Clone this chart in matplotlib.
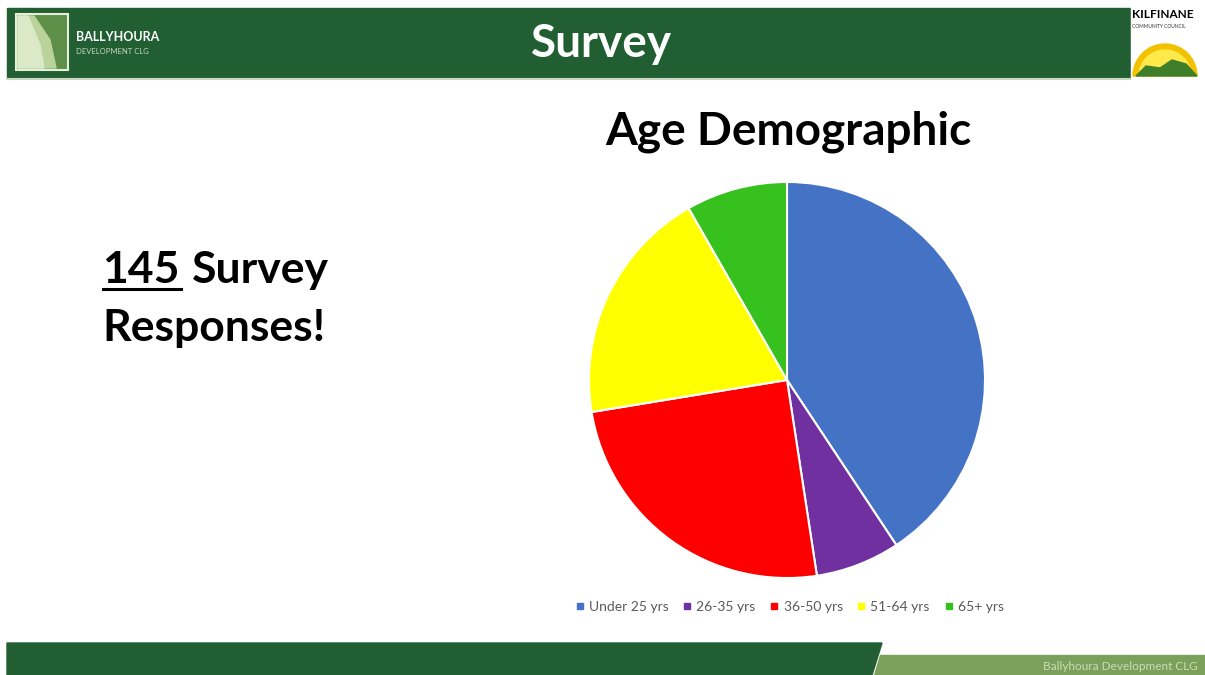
import matplotlib.pyplot as plt
from matplotlib.lines import Line2D
from matplotlib.patches import Rectangle, Polygon, Wedge

# survey answers by age group
age_groups = ["Under 25 yrs", "26-35 yrs", "36-50 yrs", "51-64 yrs", "65+ yrs"]
responses = [59, 10, 36, 28, 12]
slice_colors = ["#4472C4", "#7030A0", "#FF0000", "#FFFF00", "#36C11E"]
total_responses = sum(responses)

W, H = 1205, 675
DARK_GREEN = "#215F32"
LIGHT_GREEN = "#7BA05B"

plt.rcParams["font.family"] = ["Lato", "DejaVu Sans"]

fig = plt.figure(figsize=(W / 100, H / 100), dpi=100)

# full-size axes in pixel units for the slide decoration
deco = fig.add_axes([0, 0, 1, 1])
deco.set_xlim(0, W)
deco.set_ylim(H, 0)
deco.axis("off")

# header bar
deco.add_patch(Rectangle((7, 8), 1123, 69, color=DARK_GREEN))
deco.plot([7, 1130], [79, 79], color="#C9D6C0", lw=1.5)
deco.text(602, 44, "Survey", color="white", fontsize=33, fontweight="bold",
          ha="center", va="center")

# left logo
deco.add_patch(Rectangle((16, 14), 52, 56, facecolor="#5E8F48", edgecolor="#E4EEDA", lw=1.5))
deco.add_patch(Polygon([(18, 16), (34, 16), (50, 40), (56, 68), (18, 68)], color="#B9D39A"))
deco.add_patch(Polygon([(18, 16), (28, 16), (40, 45), (44, 68), (18, 68)], color="#DCE9C8"))
deco.text(76, 37, "BALLYHOURA", color="white", fontsize=9, fontweight="bold", va="center")
deco.text(76, 51, "DEVELOPMENT CLG", color="#C8D8BE", fontsize=5.5, va="center")

# right logo
deco.add_patch(Rectangle((1131, 8), 74, 72, color="white"))
deco.text(1132, 15, "KILFINANE", color="black", fontsize=8.5, fontweight="bold", va="center")
deco.text(1132, 26, "COMMUNITY COUNCIL", color="#333333", fontsize=3.5, va="center")
deco.add_patch(Wedge((1165, 76), 32, 180, 360, color="#F2C200"))
deco.add_patch(Wedge((1165, 76), 26, 180, 360, color="#FFE94A"))
deco.add_patch(Polygon([(1136, 76), (1146, 66), (1160, 68), (1172, 60), (1186, 64),
                        (1197, 76)], color="#3F7F2A"))

# bottom bar
deco.add_patch(Polygon([(7, 643), (882, 643), (872, 675), (7, 675)], color=DARK_GREEN))
deco.add_patch(Polygon([(880, 655), (1205, 655), (1205, 675), (874, 675)], color=LIGHT_GREEN))
deco.text(1198, 666, "Ballyhoura Development CLG", color="#C9DDB5", fontsize=8.5,
          ha="right", va="center")

# headline on the left
deco.text(102, 270, str(total_responses), color="black", fontsize=32,
          fontweight="bold", va="center")
deco.plot([103, 181], [289, 289], color="black", lw=2.2)
deco.text(192, 270, "Survey", color="black", fontsize=32, fontweight="bold", va="center")
deco.text(102, 328, "Responses!", color="black", fontsize=32, fontweight="bold", va="center")

# chart title
deco.text(788, 132, "Age Demographic", color="black", fontsize=33,
          fontweight="bold", ha="center", va="center")

# pie chart
ax = fig.add_axes([587 / W, 95 / H, 400 / W, 400 / H])
ax.pie(responses, colors=slice_colors, startangle=90, counterclock=False,
       radius=1, wedgeprops={"edgecolor": "white", "linewidth": 1.5})
ax.set_xlim(-1.01, 1.01)
ax.set_ylim(-1.01, 1.01)
ax.set_aspect("equal")

handles = [Line2D([], [], marker="s", linestyle="none", markersize=4,
                  color=c) for c in slice_colors]
fig.legend(handles, age_groups, loc="center", ncol=5, frameon=False,
           bbox_to_anchor=(790 / W, 1 - 607 / H), fontsize=10,
           labelcolor="#595959", handlelength=0.5, handletextpad=0.4,
           columnspacing=1.1)

fig.savefig("out.png", dpi=100, facecolor="white")
